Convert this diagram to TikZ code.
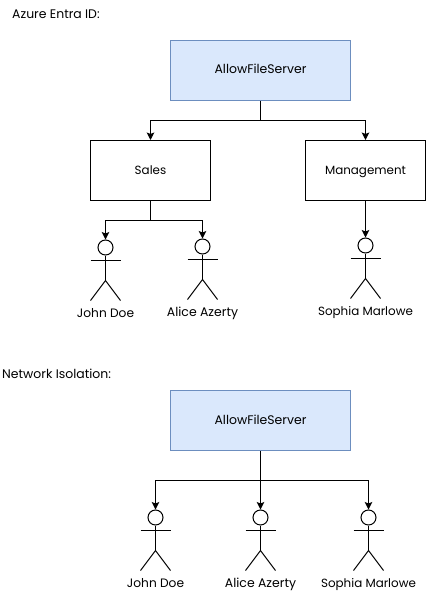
\documentclass[tikz,border=0pt]{standalone}
\usepackage{fontspec}
\setmainfont{Poppins}
\usetikzlibrary{arrows.meta}
\newcommand{\fswide}{\fontsize{12.45}{14}\selectfont}
\newcommand{\fsmedium}{\fontsize{12.2}{14}\selectfont}
\newcommand{\fsnarrow}{\fontsize{11.9}{14}\selectfont}
\tikzset{
  x=1pt,y=-1pt,
  lbl/.style={inner sep=0pt,anchor=base,font=\fswide,text=black},
  groupbox/.style={draw=black,line width=1pt,fill=white,minimum width=120pt,minimum height=60pt,inner sep=0pt,text height=9pt,text depth=2pt,font=\fsnarrow},
  rolebox/.style={draw=azureline,line width=1pt,fill=azurefill,minimum width=180pt,minimum height=60pt,inner sep=0pt,text height=9pt,text depth=2pt,font=\fswide},
  head/.style={circle,draw=black,line width=1pt,fill=white,minimum size=15pt,inner sep=0pt},
  limb/.style={draw=black,line width=1pt},
  link/.style={draw=black,line width=1pt,-{Stealth[length=7.5pt,width=7.5pt,inset=1.5pt]}},
  stem/.style={draw=black,line width=1pt},
}
\definecolor{azureline}{HTML}{6C8EBF}
\definecolor{azurefill}{HTML}{DAE8FC}
% name, centre x, head centre y, label baseline y, label
\newcommand{\stickman}[5]{%
  \node[head] (#1) at (#2,#3) {};
  \coordinate (#1neck) at (#2,#3+13);
  \coordinate (#1hip) at (#2,#3+33);
  \draw[limb] (#1.south) -- (#1hip);
  \draw[limb] (#2-15,#3+13) -- (#2+15,#3+13);
  \draw[limb] (#2-15,#3+53) -- (#1hip) -- (#2+15,#3+53);
  \node[lbl] (#1label) at (#2,#4) {#5};
}
\begin{document}
\begin{tikzpicture}
\useasboundingbox (0,0) rectangle (426,591);
\fill[white] (0,0) rectangle (426,591);
\node[lbl,anchor=base west] (title1) at (12,19) {Azure Entra ID:};
\node[lbl,anchor=base west] (title2) at (2,378) {Network Isolation:};

\node[rolebox] (allow1) at (260.5,70.5) {AllowFileServer};
\node[groupbox] (sales) at (150.5,170.5) {Sales};
\node[groupbox] (mgmt) at (365.5,170.5) {Management};
\coordinate (fork1) at (260.5,120.5);
\draw[stem] (allow1.south) -- (fork1);
\draw[link] (fork1) -| (sales.north);
\draw[link] (fork1) -| (mgmt.north);

\stickman{john}{105.5}{247.5}{317.5}{\fsmedium John Doe}
\stickman{alice}{202.5}{246.5}{316.5}{Alice Azerty}
\stickman{sophia}{365.5}{245.5}{315.5}{\fsnarrow Sophia Marlowe}
\coordinate (fork2) at (150.5,220.5);
\draw[stem] (sales.south) -- (fork2);
\draw[link] (fork2) -| (john.north);
\draw[link] (fork2) -| (alice.north);
\draw[link] (mgmt.south) -- (sophia.north);

\node[rolebox] (allow2) at (260.5,420.5) {AllowFileServer};
\stickman{johnb}{155.5}{517.5}{587.5}{\fsmedium John Doe}
\stickman{aliceb}{260.5}{517.5}{587.5}{Alice Azerty}
\stickman{sophiab}{368.5}{517.5}{587.5}{\fsnarrow Sophia Marlowe}
\coordinate (fork3) at (260.5,480.5);
\draw[stem] (allow2.south) -- (fork3);
\draw[link] (fork3) -| (johnb.north);
\draw[link] (allow2.south) -- (aliceb.north);
\draw[link] (fork3) -| (sophiab.north);
\end{tikzpicture}
\end{document}
